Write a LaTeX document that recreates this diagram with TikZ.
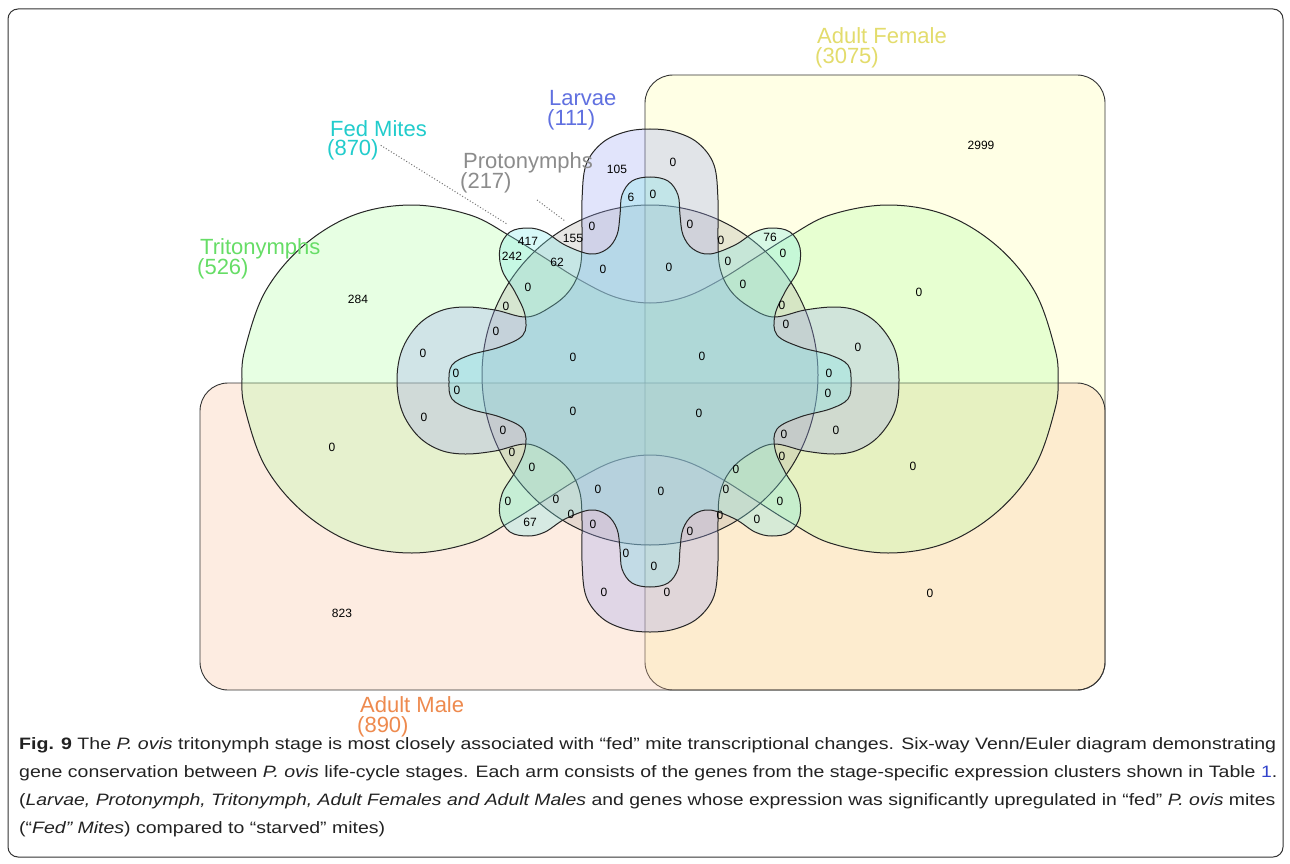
\documentclass[tikz,border=0pt]{standalone}
\usepackage{fontspec}
\setmainfont{Liberation Sans}
\usepackage{graphicx}
\definecolor{cAF}{rgb}{1,1,0.67}
\definecolor{cAM}{rgb}{0.98,0.76,0.62}
\definecolor{cTR}{rgb}{0.70,1,0.64}
\definecolor{cLA}{rgb}{0.62,0.65,0.95}
\definecolor{cPR}{rgb}{0.7,0.68,0.65}
\definecolor{cFE}{rgb}{0.49,0.91,0.91}
\definecolor{lAF}{HTML}{E3DC6C}
\definecolor{lAM}{HTML}{EE8A4E}
\definecolor{lTR}{HTML}{66DD66}
\definecolor{lLA}{HTML}{6070E0}
\definecolor{lPR}{HTML}{8C8C8C}
\definecolor{lFE}{HTML}{22CCCC}
\definecolor{linkblue}{HTML}{3344CC}
\definecolor{captxt}{HTML}{222222}
\begin{document}
\begin{tikzpicture}[x=1pt,y=-1pt,
  setline/.style={draw=black!85,line width=1pt},
  setfill/.style={fill=#1,fill opacity=0.3},
  rectset/.style={draw=black!80,line width=0.9pt,rounded corners=28pt},
  setlabel/.style={anchor=base west,inner sep=0pt,font=\fontsize{22}{22}\selectfont,text=#1},
  num/.style={inner sep=0pt,font=\fontsize{12}{14}\selectfont,text=black},
  leader/.style={draw=black!55,line width=1pt,dotted},
  capline/.style={anchor=base west,inner sep=0pt,font=\fontsize{16.5}{20}\selectfont,text=captxt}]
\useasboundingbox (0,0) rectangle (1290,864);
\fill[white] (0,0) rectangle (1290,864);
\draw[draw=black!80,line width=1pt,rounded corners=10pt] (8,9) rectangle (1283,857);
% Adult Female
\path[setfill=cAF] (645,75) [rounded corners=28pt] rectangle (1105,690);
\draw[rectset] (645,75) rectangle (1105,690);
% Adult Male
\path[setfill=cAM] (200,383) [rounded corners=28pt] rectangle (1105,690);
\draw[rectset] (200,383) rectangle (1105,690);
% Tritonymphs
\path[setfill=cTR,setline] plot[smooth cycle,tension=0.6] coordinates {
(242,379) (245,349) (265,292) (303,246) (354,215) (412,205) (470,215) (510,236) (545,258) (580,280) (615,297) (650,303)
(685,297) (720,280) (755,258) (790,236) (830,215) (888,205) (946,215) (997,246) (1035,292) (1055,349) (1058,379)
(1055,409) (1035,466) (997,512) (946,543) (888,553) (830,543) (790,522) (755,500) (720,478) (685,461) (650,455)
(615,461) (580,478) (545,500) (510,522) (470,543) (412,553) (354,543) (303,512) (265,466) (245,409)};
% Protonymphs
\path[setfill=cPR,setline] (650,375) ellipse [x radius=168,y radius=170];
% Larvae
\path[setfill=cLA,setline] plot[smooth cycle,tension=0.6] coordinates {
(650,129) (675,132) (698,143) (714,165) (718,200) (718,240) (720,268) (730,290) (748,306) (773,317) (805,310) (835,307) (858,311) (879,325) (895,350) (899,380)
(895,411) (879,436) (858,450) (835,454) (805,451) (773,444) (748,455) (730,471) (720,493) (718,521) (718,561) (714,596) (698,618) (675,629) (650,632)
(625,629) (602,618) (586,596) (582,561) (582,521) (580,493) (570,471) (552,455) (527,444) (495,451) (465,454) (440,450) (418,436) (402,411) (397,380)
(402,350) (418,325) (440,311) (465,307) (495,310) (527,317) (552,306) (570,290) (580,268) (582,240) (582,200) (586,165) (602,143) (625,132)};
% Fed Mites
\path[setfill=cFE,setline] plot[smooth cycle,tension=0.6] coordinates {
(650,177) (668,181) (678,195) (680,215) (683,235) (693,249) (710,254) (735,245) (755,232) (772,228) (790,232) (800,248) (798,270) (785,292) (775,315) (777,335) (800,347) (830,355) (848,365) (851,382)
(848,399) (830,409) (800,417) (777,429) (775,449) (785,472) (798,494) (800,516) (790,532) (772,536) (755,532) (735,519) (710,510) (693,515) (683,529) (680,549) (678,569) (668,583) (650,587)
(632,583) (622,569) (620,549) (617,529) (607,515) (590,510) (565,519) (545,532) (528,536) (510,532) (500,516) (502,494) (515,472) (525,449) (523,429) (500,417) (470,409) (452,399)
(449,382) (452,365) (470,355) (500,347) (523,335) (525,315) (515,292) (502,270) (500,248) (510,232) (528,228) (545,232) (565,245) (590,254) (607,249) (617,235) (620,215) (622,195) (632,181)};
% region counts
\foreach \x/\y/\t [count=\i] in {
617/169/105, 673/162/0, 981/145/2999, 631/197/6, 653/194/0, 592/226/0, 690/224/0, 721/240/0, 770/237/76,
528/241/417, 573/238/155, 512/256/242, 557/262/62, 603/269/0, 669/267/0, 728/261/0, 783/253/0, 743/284/0,
358/299/284, 919/292/0, 528/287/0, 506/306/0, 782/305/0, 786/324/0, 496/331/0, 423/353/0, 858/347/0,
573/357/0, 702/356/0, 456/373/0, 457/390/0, 829/373/0, 828/393/0, 573/411/0, 699/413/0, 424/417/0,
836/430/0, 503/430/0, 784/434/0, 332/447/0, 512/452/0, 782/456/0, 913/466/0, 532/467/0, 736/469/0,
598/489/0, 661/491/0, 726/489/0, 508/501/0, 556/499/0, 780/501/0, 530/522/67, 571/514/0, 720/515/0,
757/519/0, 593/524/0, 690/531/0, 626/553/0, 654/566/0, 604/592/0, 667/592/0, 930/593/0, 342/613/823}
  {\node[num] (n\i) at (\x,\y) {\t};}
% set labels
\node[setlabel=lAF] (afa) at (817,44) {Adult Female};
\node[setlabel=lAF] (afb) at (815,64) {(3075)};
\node[setlabel=lLA] (laa) at (549,106) {Larvae};
\node[setlabel=lLA] (lab) at (547,126) {(111)};
\node[setlabel=lFE] (fea) at (330,136) {Fed Mites};
\node[setlabel=lFE] (feb) at (327,156) {(870)};
\node[setlabel=lPR] (pra) at (463,168) {Protonymphs};
\node[setlabel=lPR] (prb) at (460,188) {(217)};
\node[setlabel=lTR] (tra) at (200,254) {Tritonymphs};
\node[setlabel=lTR] (trb) at (197,274) {(526)};
\node[setlabel=lAM] (ama) at (360,712) {Adult Male};
\node[setlabel=lAM] (amb) at (357,732) {(890)};
% leaders
\coordinate (fetip) at (507,224);
\coordinate (prtip) at (565,221);
\coordinate (prstart) at (537,200);
\draw[leader] (feb.east) ++(2,-5) coordinate (festart) -- (fetip);
\draw[leader] (prstart) -- (prtip);
% caption
\node[capline] (cap1) at (19,749) {\resizebox{1257pt}{\height}{\textbf{Fig. 9} The \textit{P. ovis} tritonymph stage is most closely associated with “fed” mite transcriptional changes. Six-way Venn/Euler diagram demonstrating}};
\node[capline] (cap2) at (19,777) {\resizebox{1258pt}{\height}{gene conservation between \textit{P. ovis} life-cycle stages. Each arm consists of the genes from the stage-specific expression clusters shown in Table \textcolor{linkblue}{1}.}};
\node[capline] (cap3) at (19,805) {\resizebox{1256pt}{\height}{(\textit{Larvae, Protonymph, Tritonymph, Adult Females and Adult Males} and genes whose expression was significantly upregulated in “fed” \textit{P. ovis} mites}};
\node[capline] (cap4) at (19,833) {\resizebox{366pt}{\height}{(“\textit{Fed” Mites}) compared to “starved” mites)}};
\end{tikzpicture}
\end{document}
